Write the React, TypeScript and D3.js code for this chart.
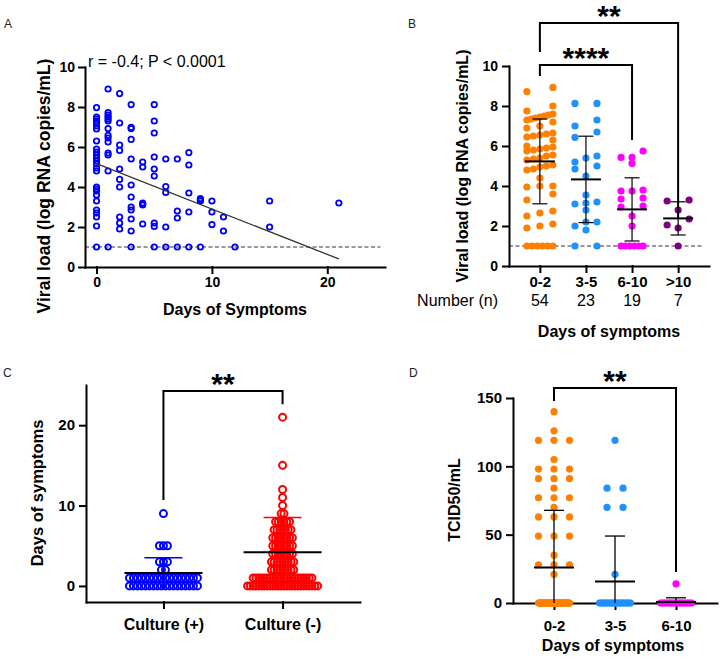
import React, { useEffect, useRef } from "react";
import * as d3 from "d3";

const FONT = '"Liberation Sans", Arial, Helvetica, sans-serif';

// ---------- panel A : viral load vs days of symptoms
const aDays = [0, 1, 2, 3, 4, 5, 6, 7, 8, 9, 10, 11, 12, 15, 21];
const aLoads = [
  [7.97, 7.5, 7.4, 7.3, 7.2, 7.05, 6.9, 6.3, 5.9, 5.75, 5.6, 5.45, 5.3, 5.15, 4.95, 4.8, 4.0, 3.9, 3.8, 3.6, 3.3, 2.85, 2.7, 2.5, 2.05, 1.0],
  [8.9, 7.72, 7.6, 7.5, 7.4, 7.3, 6.92, 6.58, 6.45, 6.25, 5.7, 5.6, 4.8, 1.0],
  [8.67, 7.2, 6.1, 5.83, 4.9, 4.38, 4.0, 2.5, 2.2, 1.9],
  [8.12, 6.98, 6.92, 6.38, 5.4, 4.1, 3.5, 3.0, 2.85, 2.4, 1.8, 1.0],
  [5.25, 5.0, 3.2, 3.15, 3.1, 2.15],
  [8.12, 7.3, 6.7, 5.5, 4.9, 4.55, 2.2, 2.03, 1.0],
  [5.4, 4.02, 3.73, 2.0, 1.0],
  [5.4, 2.8, 2.45, 1.0],
  [5.72, 5.1, 3.7, 2.75, 1.0],
  [3.42, 3.35, 3.3, 1.0],
  [3.3, 2.75, 2.12],
  [2.5, 1.8],
  [1.0],
  [3.3, 2.0],
  [3.2],
];
const aFitIntercept = 5.17;
const aFitSlope = -0.227;
const aFitDays = [0, 21];
const aXTicks = [0, 10, 20];
const loadTicks = [0, 2, 4, 6, 8, 10];
const detectionLimit = 1;
const aStat = "r = -0.4; P < 0.0001";

// ---------- panel B : viral load by symptom group
const bGroups = ["0-2", "3-5", "6-10", ">10"];
const bCounts = ["54", "23", "19", "7"];
const bLoads = [
  [8.93, 8.72, 8.0, 7.75, 7.6, 7.55, 7.5, 7.45, 7.4, 7.35, 7.3, 7.2, 7.0, 6.9, 6.65, 6.6, 6.55, 6.5, 6.45, 6.3, 6.0, 5.95, 5.9, 5.85, 5.8, 5.75, 5.55, 5.5, 5.4, 5.35, 5.3, 5.05, 5.0, 4.95, 4.85, 4.8, 4.4, 4.0, 4.0, 3.95, 3.6, 3.3, 2.75, 2.65, 2.5, 2.1, 2.0, 1.9, 1, 1, 1, 1, 1, 1],
  [8.13, 8.13, 7.3, 7.0, 6.7, 6.43, 5.5, 5.4, 5.2, 5.0, 4.85, 4.5, 3.55, 3.2, 3.15, 3.1, 2.8, 2.2, 2.2, 2.0, 1.8, 1.0, 1.0],
  [5.75, 5.43, 5.43, 5.13, 3.8, 3.75, 3.75, 3.4, 3.35, 3.0, 2.95, 2.5, 2.0, 1, 1, 1, 1, 1, 1],
  [3.3, 3.25, 2.8, 2.35, 2.05, 1.9, 1.0],
];
const bMean = [5.23, 4.33, 2.83, 2.38];
const bSD = [2.12, 2.16, 1.58, 0.83];

// ---------- panel C : days of symptoms by culture result
const cGroups = ["Culture (+)", "Culture (-)"];
const cPosDays = [0, 1, 2, 3, 5, 9];
const cPosCounts = [18, 18, 2, 3, 3, 1];
const cNegDays = [0, 1, 2, 3, 4, 5, 6, 7, 8, 9, 10, 11, 12, 15, 21];
const cNegCounts = [26, 22, 9, 9, 8, 8, 8, 7, 6, 2, 1, 1, 1, 1, 1];
const cMean = [1.6, 4.2];
const cSD = [1.9, 4.3];
const cTicks = [0, 10, 20];

// ---------- panel D : TCID50 by symptom group
const dGroups = ["0-2", "3-5", "6-10"];
const dTcid = [
  [140, 126, 119, 119, 119, 105, 98, 98, 98, 91, 91, 91, 84, 77, 77, 77, 70, 63, 63, 63, 49, 49, 49, 35, 28, 28, 28, 21],
  [119, 84, 84, 70, 70, 21],
  [14],
];
const dZeroCounts = [55, 23, 19];
const dMean = [25.9, 15.7, 0.7];
const dSD = [41.9, 33.3, 3.1];
const dTicks = [0, 50, 100, 150];

const groupColors = ["#FF8000", "#1E90FF", "#FF00FF", "#800080"];

// ---------- helpers
function txt(g: any, x: number, y: number, s: string, size: number, weight = "bold", anchor = "middle", rotate = false) {
  const t = g.append("text")
    .attr("font-family", FONT)
    .attr("font-size", size)
    .attr("font-weight", weight)
    .attr("text-anchor", anchor)
    .attr("fill", "#000")
    .text(s);
  if (rotate) t.attr("transform", `translate(${x},${y}) rotate(-90)`);
  else t.attr("x", x).attr("y", y);
  return t;
}

function styleAxis(ax: any, size: number) {
  ax.attr("font-family", FONT).attr("font-size", size).attr("font-weight", "bold");
  ax.selectAll("path,line").attr("stroke", "#000").attr("stroke-width", 2).attr("stroke-linecap", "square");
  ax.selectAll("text").attr("fill", "#000");
}

// points of equal (or nearly equal) value are put side by side in one row
function rows(vals: number[], y: any, thresh: number, sMax: number, half: number) {
  const sorted = [...vals].sort((a, b) => b - a);
  const out: { v: number; dx: number }[] = [];
  let row: number[] = [];
  const flush = () => {
    const n = row.length;
    const s = n > 1 ? Math.min(sMax, (2 * half) / (n - 1)) : 0;
    row.sort((a, b) => a - b).forEach((v, i) => out.push({ v, dx: (i - (n - 1) / 2) * s }));
    row = [];
  };
  sorted.forEach((v) => {
    if (row.length && Math.abs(y(row[0]) - y(v)) >= thresh) flush();
    row.push(v);
  });
  if (row.length) flush();
  return out;
}

function bracket(g: any, x1: number, x2: number, yTop: number, yLeft: number, yRight: number, label: string) {
  g.append("path")
    .attr("d", `M${x1},${yLeft}V${yTop}H${x2}V${yRight}`)
    .attr("fill", "none")
    .attr("stroke", "#000")
    .attr("stroke-width", 2);
  txt(g, (x1 + x2) / 2, yTop + 3, label, 30);
}

function meanSd(g: any, cx: number, y: any, mean: number, sd: number, halfMean: number, halfCap: number, sdColor: string, sdWidth: number, floor: number) {
  const lo = Math.max(mean - sd, floor);
  g.append("line").attr("x1", cx).attr("x2", cx).attr("y1", y(mean + sd)).attr("y2", y(lo))
    .attr("stroke", sdColor).attr("stroke-width", sdWidth);
  g.append("line").attr("x1", cx - halfCap).attr("x2", cx + halfCap).attr("y1", y(mean + sd)).attr("y2", y(mean + sd))
    .attr("stroke", sdColor).attr("stroke-width", sdWidth);
  if (mean - sd >= floor)
    g.append("line").attr("x1", cx - halfCap).attr("x2", cx + halfCap).attr("y1", y(mean - sd)).attr("y2", y(mean - sd))
      .attr("stroke", sdColor).attr("stroke-width", sdWidth);
  g.append("line").attr("x1", cx - halfMean).attr("x2", cx + halfMean).attr("y1", y(mean)).attr("y2", y(mean))
    .attr("stroke", "#000").attr("stroke-width", 2);
}

// ---------- panels
function drawA(g: any) {
  const x = d3.scaleLinear().domain([-1, 25]).range([85, 385]);
  const y = d3.scaleLinear().domain([0, 10]).range([267, 67]);

  g.append("line")
    .attr("x1", x(-1)).attr("x2", x(24.6))
    .attr("y1", y(detectionLimit)).attr("y2", y(detectionLimit))
    .attr("stroke", "#333").attr("stroke-width", 1).attr("stroke-dasharray", "4,2.5");

  const pts = aDays.flatMap((d, i) => aLoads[i].map((v) => ({ d, v })));
  g.selectAll("circle.pa").data(pts).join("circle")
    .attr("class", "pa")
    .attr("cx", (p: any) => x(p.d))
    .attr("cy", (p: any) => y(p.v))
    .attr("r", 2.7)
    .attr("fill", "none")
    .attr("stroke", "#0000FF")
    .attr("stroke-width", 1.8);

  const fit = d3.line<number>().x((d) => x(d)).y((d) => y(aFitIntercept + aFitSlope * d));
  g.append("path").attr("d", fit(aFitDays)).attr("stroke", "#333").attr("stroke-width", 1.3).attr("fill", "none");

  const ya = g.append("g").attr("transform", `translate(${x(-1)},0)`)
    .call(d3.axisLeft(y).tickValues(loadTicks).tickSize(6).tickPadding(4).tickSizeOuter(0));
  styleAxis(ya, 14);
  const xa = g.append("g").attr("transform", `translate(0,${y(0)})`)
    .call(d3.axisBottom(x).tickValues(aXTicks).tickSize(6).tickPadding(4).tickSizeOuter(0));
  styleAxis(xa, 14);

  txt(g, 88, 67, aStat, 16, "normal", "start");
  txt(g, 235, 315, "Days of Symptoms", 16);
  txt(g, 50, 186, "Viral load (log RNA copies/mL)", 17.5, "bold", "middle", true);
  txt(g, 4, 28, "A", 12, "normal", "start").attr("fill", "#222");
}

function drawB(g: any) {
  const x = d3.scalePoint<string>().domain(bGroups).range([509, 709]).padding(0.67);
  const y = d3.scaleLinear().domain([0, 10]).range([266, 66]);

  g.append("line")
    .attr("x1", x.range()[0]).attr("x2", x.range()[1] - 7)
    .attr("y1", y(detectionLimit)).attr("y2", y(detectionLimit))
    .attr("stroke", "#333").attr("stroke-width", 1).attr("stroke-dasharray", "4,2.5");

  bGroups.forEach((grp, i) => {
    const cx = x(grp) as number;
    const pts = rows(bLoads[i], y, 6.5, 26, i === 0 ? 13 : 11);
    g.append("g").selectAll("circle").data(pts).join("circle")
      .attr("cx", (p: any) => cx + p.dx)
      .attr("cy", (p: any) => y(p.v))
      .attr("r", 3.6)
      .attr("fill", groupColors[i]);
    meanSd(g, cx, y, bMean[i], bSD[i], 15, 7.5, "#000", 1.2, -Infinity);
  });

  const ya = g.append("g").attr("transform", `translate(${x.range()[0]},0)`)
    .call(d3.axisLeft(y).tickValues(loadTicks).tickSize(6).tickPadding(5).tickSizeOuter(0));
  styleAxis(ya, 14);
  const xa = g.append("g").attr("transform", `translate(0,${y(0)})`)
    .call(d3.axisBottom(x).tickSize(6).tickPadding(4).tickSizeOuter(0));
  styleAxis(xa, 15);

  txt(g, 498, 306, "Number (n)", 16, "normal", "end");
  bGroups.forEach((grp, i) => txt(g, x(grp) as number, 306, bCounts[i], 16, "normal"));
  txt(g, 609, 337, "Days of symptoms", 16);
  txt(g, 468, 166, "Viral load (log RNA copies/mL)", 16, "bold", "middle", true);
  txt(g, 408, 28, "B", 12, "normal", "start").attr("fill", "#222");

  const x0 = x(bGroups[0]) as number;
  bracket(g, x0, x(bGroups[3]) as number, y(12.15), y(10.7), y(2.4), "**");
  bracket(g, x0, x(bGroups[2]) as number, y(10.05), y(9.5), y(6.3), "****");
}

function drawC(g: any) {
  const x = d3.scalePoint<string>().domain(cGroups).range([86, 360]).padding(0.65);
  const y = d3.scaleLinear().domain([-2, 25]).range([602, 385]);
  const colors = ["#0000FF", "#FF0000"];
  const series = [
    { days: cPosDays, counts: cPosCounts, spacing: 4 },
    { days: cNegDays, counts: cNegCounts, spacing: 2.8 },
  ];

  series.forEach((s, i) => {
    const cx = x(cGroups[i]) as number;
    const vals = s.days.flatMap((d, k) => d3.range(s.counts[k]).map(() => d));
    const pts = rows(vals, y, 0.5, s.spacing, 60);
    g.append("line").attr("x1", cx).attr("x2", cx).attr("y1", y(cMean[i] + cSD[i])).attr("y2", y(cMean[i] - cSD[i]))
      .attr("stroke", colors[i]).attr("stroke-width", 1.5);
    g.append("g").selectAll("circle").data(pts).join("circle")
      .attr("cx", (p: any) => cx + p.dx)
      .attr("cy", (p: any) => y(p.v))
      .attr("r", 3.5)
      .attr("fill", "none")
      .attr("stroke", colors[i])
      .attr("stroke-width", 2);
    g.append("line").attr("x1", cx - 39).attr("x2", cx + 39).attr("y1", y(cMean[i])).attr("y2", y(cMean[i]))
      .attr("stroke", "#000").attr("stroke-width", 2);
    g.append("line").attr("x1", cx - 19).attr("x2", cx + 19).attr("y1", y(cMean[i] + cSD[i])).attr("y2", y(cMean[i] + cSD[i]))
      .attr("stroke", colors[i]).attr("stroke-width", 1.5);
  });

  const ya = g.append("g").attr("transform", `translate(${x.range()[0]},0)`)
    .call(d3.axisLeft(y).tickValues(cTicks).tickSize(6).tickPadding(5).tickSizeOuter(0));
  styleAxis(ya, 15);
  const xa = g.append("g").attr("transform", `translate(0,${y.range()[0]})`)
    .call(d3.axisBottom(x).tickSize(6).tickPadding(11).tickSizeOuter(0));
  styleAxis(xa, 16);

  txt(g, 43, 493, "Days of symptoms", 16.5, "bold", "middle", true);
  txt(g, 3, 377, "C", 12, "normal", "start").attr("fill", "#222");
  bracket(g, x(cGroups[0]) as number, x(cGroups[1]) as number, y(24.25), y(10.7), y(22.6), "**");
}

function drawD(g: any) {
  const x = d3.scalePoint<string>().domain(dGroups).range([513, 717]).padding(0.672);
  const y = d3.scaleLinear().domain([0, 150]).range([603, 398]);

  const ya = g.append("g").attr("transform", `translate(${x.range()[0]},0)`)
    .call(d3.axisLeft(y).tickValues(dTicks).tickSize(6).tickPadding(5).tickSizeOuter(0));
  styleAxis(ya, 15);
  const xa = g.append("g").attr("transform", `translate(0,${y(0)})`)
    .call(d3.axisBottom(x).tickSize(6).tickPadding(11).tickSizeOuter(0));
  styleAxis(xa, 15);

  dGroups.forEach((grp, i) => {
    const cx = x(grp) as number;
    const vals = dTcid[i].concat(d3.range(dZeroCounts[i]).map(() => 0));
    const pts = rows(vals, y, 0.5, 16, 15.5);
    g.append("g").selectAll("circle").data(pts).join("circle")
      .attr("cx", (p: any) => cx + p.dx)
      .attr("cy", (p: any) => y(p.v))
      .attr("r", 3.6)
      .attr("fill", groupColors[i]);
    meanSd(g, cx, y, dMean[i], dSD[i], 20, 10, "#000", 1.3, 0);
  });

  txt(g, 613, 651, "Days of symptoms", 16);
  txt(g, 460, 500, "TCID50/mL", 16, "bold", "middle", true);
  txt(g, 409, 377, "D", 12, "normal", "start").attr("fill", "#222");
  bracket(g, x(dGroups[0]) as number, x(dGroups[2]) as number, y(157.3), y(147.8), y(22.7), "**");
}

const App = () => {
  const ref = useRef<SVGSVGElement>(null);
  useEffect(() => {
    const svg = d3.select(ref.current);
    svg.selectAll("*").remove();
    svg.append("rect").attr("width", 720).attr("height", 660).attr("fill", "#fff");
    drawA(svg.append("g"));
    drawB(svg.append("g"));
    drawC(svg.append("g"));
    drawD(svg.append("g"));
  }, []);
  return (
    <svg ref={ref} width={720} height={660} style={{ position: "absolute", left: 0, top: 0, display: "block" }} />
  );
};

export default App;
